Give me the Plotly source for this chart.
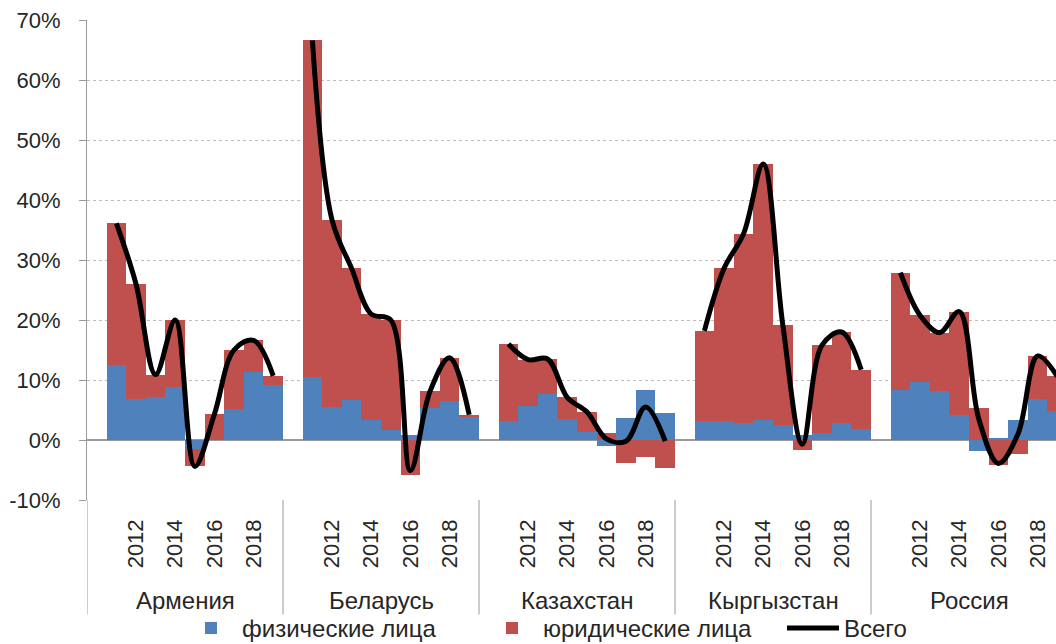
import plotly.graph_objects as go

# ---- data (percent) ----
countries = ["Армения", "Беларусь", "Казахстан", "Кыргызстан", "Россия"]
years = [2011, 2012, 2013, 2014, 2015, 2016, 2017, 2018, 2019]
first_slot_year = 2010          # empty first slot in every group
slots_per_group = 10
label_years = [2012, 2014, 2016, 2018]

# физические лица
fiz_armenia    = [12.5, 6.9, 7.1, 8.8, -1.5, 0.0, 5.2, 11.3, 9.1]
fiz_belarus    = [10.5, 5.5, 6.7, 3.4, 1.6, 0.8, 5.3, 6.5, 3.9]
fiz_kazakhstan = [3.2, 5.7, 7.7, 3.5, 1.3, -1.0, 3.7, 8.3, 4.5]
fiz_kyrgyzstan = [3.1, 3.1, 2.8, 3.4, 2.5, 0.9, 1.2, 2.8, 1.9]
fiz_russia     = [8.3, 9.7, 8.1, 4.2, -1.8, 0.3, 3.3, 6.9, 4.8]

# юридические лица
yur_armenia    = [23.6, 19.1, 3.8, 11.2, -2.9, 4.3, 9.8, 5.3, 1.6]
yur_belarus    = [56.1, 31.2, 21.9, 17.6, 18.4, -5.9, 2.8, 7.2, 0.3]
yur_kazakhstan = [12.8, 7.7, 5.8, 3.6, 3.4, 1.2, -3.9, -2.8, -4.7]
yur_kyrgyzstan = [15.1, 25.5, 31.6, 42.6, 16.7, -1.6, 14.6, 15.2, 9.8]
yur_russia     = [19.6, 11.1, 9.8, 17.2, 5.3, -4.2, -2.3, 7.1, 5.8]

fiz_series = [fiz_armenia, fiz_belarus, fiz_kazakhstan, fiz_kyrgyzstan, fiz_russia]
yur_series = [yur_armenia, yur_belarus, yur_kazakhstan, yur_kyrgyzstan, yur_russia]

y_ticks = [-10, 0, 10, 20, 30, 40, 50, 60, 70]

# ---- build positions ----
xb, fz, yr_ = [], [], []
xl, tot = [], []
for g in range(len(countries)):
    for i, yv in enumerate(years):
        pos = g * slots_per_group + (yv - first_slot_year)
        xb.append(pos)
        fz.append(fiz_series[g][i])
        yr_.append(yur_series[g][i])
        xl.append(pos)
        tot.append(round(fiz_series[g][i] + yur_series[g][i], 2))
    xl.append(None)
    tot.append(None)

tickvals, ticktext = [], []
for g in range(len(countries)):
    for yv in label_years:
        tickvals.append(g * slots_per_group + (yv - first_slot_year))
        ticktext.append(str(yv))

FONT = "Liberation Sans, Arial, sans-serif"
TXT = "#262626"
AXC = "#9a9a9a"

fig = go.Figure()
fig.add_trace(go.Bar(x=xb, y=fz, name="физические лица",
                     marker=dict(color="#4F81BD", line=dict(width=0))))
fig.add_trace(go.Bar(x=xb, y=yr_, name="юридические лица",
                     marker=dict(color="#C0504D", line=dict(width=0))))
fig.add_trace(go.Scatter(x=xl, y=tot, name="Всего", mode="lines",
                         line=dict(color="black", width=5, shape="spline", smoothing=1.0),
                         connectgaps=False))

W, H = 1056, 644
ml, mt, mb = 87, 19.6, 143.6
plot_w = W - ml
plot_h = H - mt - mb
slot_px = 19.6
x_end = -0.5 + plot_w / slot_px
bottom_px = H - mb


def py(px):
    """pixel row -> paper y"""
    return (bottom_px - px) / plot_h


def px_x(px):
    """pixel column -> paper x"""
    return (px - ml) / plot_w


shapes = []
for g in range(len(countries)):
    xs = g * slots_per_group - 0.5
    shapes.append(dict(type="line", xref="x", yref="paper", x0=xs, x1=xs,
                       y0=0, y1=py(615), line=dict(color=AXC, width=1)))

annotations = []
for g, c in enumerate(countries):
    annotations.append(dict(x=g * slots_per_group + (slots_per_group - 1) / 2, xref="x",
                            y=py(601), yref="paper",
                            text=c, showarrow=False, xanchor="center", yanchor="middle",
                            font=dict(family=FONT, size=24, color=TXT)))

fig.update_layout(
    width=W, height=H,
    margin=dict(l=ml, r=0, t=mt, b=mb, pad=0, autoexpand=False),
    paper_bgcolor="white", plot_bgcolor="white",
    barmode="relative", bargap=0,
    font=dict(family=FONT, size=22, color=TXT),
    showlegend=True,
    legend=dict(orientation="h", x=px_x(180), xanchor="left", y=py(629),
                yanchor="middle", font=dict(family=FONT, size=24, color=TXT),
                bgcolor="rgba(0,0,0,0)", itemwidth=52, entrywidth=234,
                entrywidthmode="pixels"),
    shapes=shapes,
    annotations=annotations,
    xaxis=dict(range=[-0.5, x_end], tickmode="array", tickvals=tickvals, ticktext=ticktext,
               tickangle=-90, ticks="", showgrid=False, zeroline=False, showline=False,
               ticklabelstandoff=14, tickfont=dict(family=FONT, size=22, color=TXT)),
    yaxis=dict(range=[-10, 70], tickmode="array", tickvals=y_ticks,
               ticktext=[f"{v}%" for v in y_ticks],
               showgrid=True, gridcolor="#bdbdbd", griddash="dot", gridwidth=1,
               zeroline=True, zerolinecolor=AXC, zerolinewidth=1.5,
               showline=True, linecolor=AXC, linewidth=1,
               ticks="outside", ticklen=7, tickcolor=AXC, ticklabelstandoff=14,
               tickfont=dict(family=FONT, size=22, color=TXT)),
)

fig.write_html("out.html", config={"displayModeBar": False},
               post_script="document.body.style.margin='0';document.body.style.overflow='hidden';")
